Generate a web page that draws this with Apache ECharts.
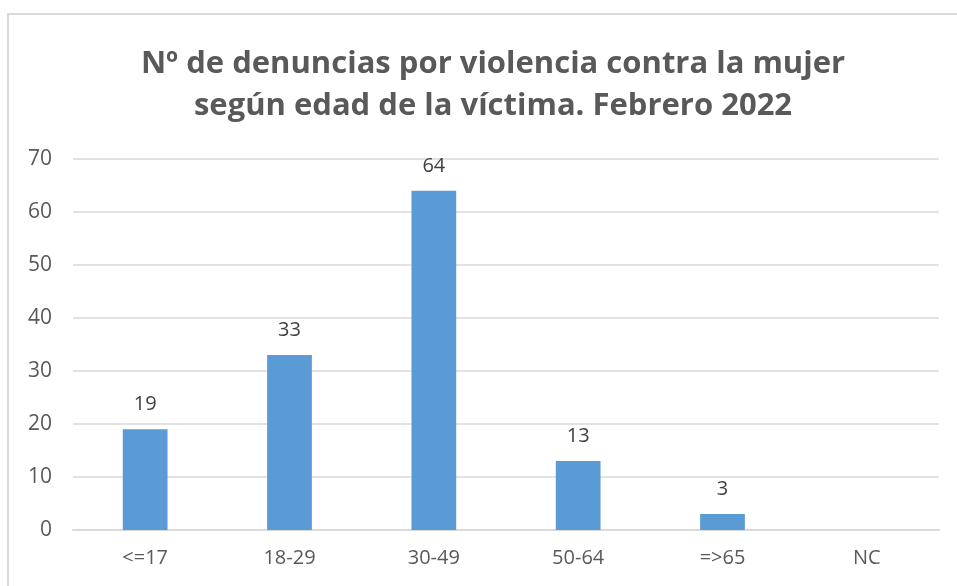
<!DOCTYPE html>
<html>
<head>
<meta charset="utf-8">
<script src="https://cdn.jsdelivr.net/npm/echarts@6/dist/echarts.min.js"></script>
<style>
html, body { margin: 0; padding: 0; background: #fff; }
#chart { width: 957px; height: 586px; }
</style>
</head>
<body>
<div id="chart"></div>
<script>
var categories = ['<=17', '18-29', '30-49', '50-64', '=>65', 'NC'];
var denuncias = [19, 33, 64, 13, 3, null];

var chart = echarts.init(document.getElementById('chart'));

var option = {
    animation: false,
    title: {
        text: 'Nº de denuncias por violencia contra la mujer\nsegún edad de la víctima. Febrero 2022',
        left: 488,
        top: 38,
        textAlign: 'center',
        textStyle: {
            fontFamily: 'Open Sans',
            fontWeight: 'bold',
            fontSize: 31,
            lineHeight: 42,
            color: '#595959'
        }
    },
    graphic: [{
        type: 'rect',
        shape: { x: 8, y: 14, width: 1000, height: 700 },
        style: { fill: 'none', stroke: '#d9d9d9', lineWidth: 2 },
        silent: true
    }],
    grid: { left: 73, right: 18, top: 159, bottom: 56 },
    xAxis: {
        type: 'category',
        data: categories,
        axisLine: { lineStyle: { color: '#d9d9d9', width: 2 } },
        axisTick: { show: false },
        axisLabel: { color: '#595959', fontSize: 20, fontFamily: 'Open Sans', margin: 18 }
    },
    yAxis: {
        type: 'value',
        min: 0,
        max: 70,
        interval: 10,
        axisLine: { show: false },
        axisTick: { show: false },
        splitLine: { lineStyle: { color: '#d9d9d9', width: 1.5 } },
        axisLabel: { color: '#595959', fontSize: 21, fontFamily: 'Open Sans', margin: 21 }
    },
    series: [{
        name: 'Denuncias',
        type: 'bar',
        data: denuncias,
        barWidth: '31%',
        itemStyle: { color: '#5b9bd5' },
        label: {
            show: true,
            position: 'top',
            distance: 15,
            color: '#404040',
            fontSize: 20,
            fontFamily: 'Open Sans'
        }
    }]
};
chart.setOption(option);
</script>
</body>
</html>
